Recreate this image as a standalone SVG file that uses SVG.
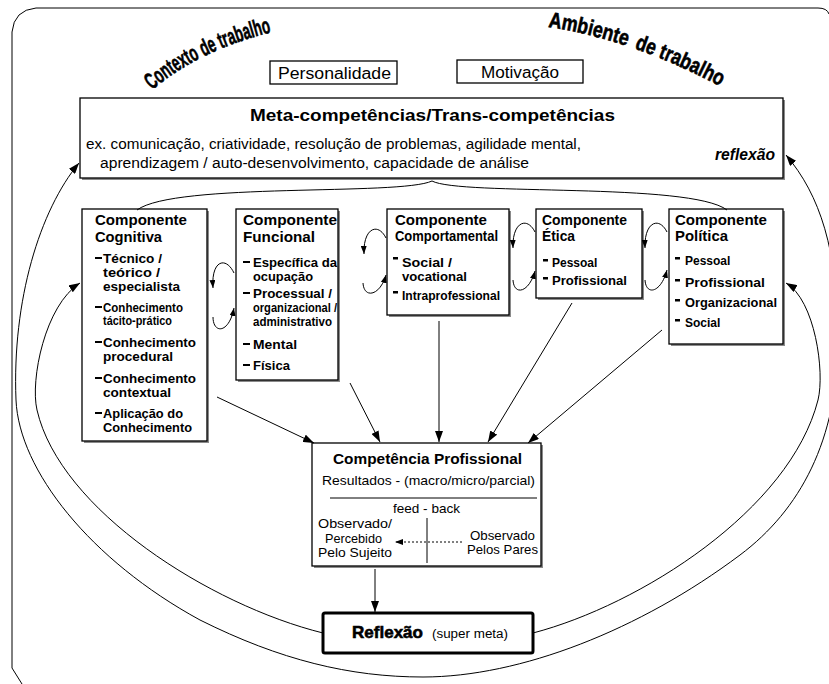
<svg xmlns="http://www.w3.org/2000/svg" width="829" height="684" viewBox="0 0 829 684">
<style>
.box{fill:#fff;stroke:#000;stroke-width:1.3}
.sh{fill:#8a8a8a}
.t{font-family:"Liberation Sans",Arial,sans-serif;fill:#000}
.n{font-family:"Liberation Sans Narrow","Liberation Sans",Arial,sans-serif;fill:#000}
.b{font-weight:bold}
.hv{font-weight:bold;stroke:#000;stroke-width:0.6}
.ttl{font-size:15px;font-weight:bold}
.it{font-size:12px;font-weight:bold}
.ln{fill:none;stroke:#000;stroke-width:1}
.bul{fill:#000}
</style>
<defs>
<marker id="ah" viewBox="0 0 11 8" refX="11" refY="4" markerWidth="11" markerHeight="8" markerUnits="userSpaceOnUse" orient="auto-start-reverse"><path d="M0,0 L11,4 L0,8 z"/></marker>
<marker id="as" viewBox="0 0 8 6" refX="8" refY="3" markerWidth="8" markerHeight="6" markerUnits="userSpaceOnUse" orient="auto-start-reverse"><path d="M0,0 L8,3 L0,6 z"/></marker>
<path id="p-ctx" d="M 152 90 Q 203 47 282 30"/>
<path id="p-amb" d="M 548 27 Q 635 40 727 90"/>
</defs>

<g id="frame">
<path class="ln" d="M 22 684 L 12 668 L 12 32 Q 14 10 36 8 L 818 8 Q 827 8 829 14"/>
</g>

<g id="labels-top">
<text class="t hv" font-size="23"><textPath href="#p-ctx" textLength="134" lengthAdjust="spacingAndGlyphs">Contexto de trabalho</textPath></text>
<text class="t hv" font-size="22"><textPath href="#p-amb" startOffset="0" textLength="81" lengthAdjust="spacingAndGlyphs">Ambiente</textPath></text>
<text class="t hv" font-size="22"><textPath href="#p-amb" startOffset="89" textLength="94" lengthAdjust="spacingAndGlyphs">de trabalho</textPath></text>
</g>

<g id="personalidade">
<rect class="box" x="270" y="61" width="127" height="23"/>
<text class="n" x="278" y="79" font-size="16" textLength="113" lengthAdjust="spacingAndGlyphs">Personalidade</text>
</g>
<g id="motivacao">
<rect class="box" x="457" y="60" width="126" height="23"/>
<text class="n" x="481" y="78" font-size="16" textLength="78" lengthAdjust="spacingAndGlyphs">Motivação</text>
</g>

<g id="meta">
<rect class="sh" x="82" y="100" width="703" height="80"/>
<rect class="box" x="80" y="98" width="703" height="80"/>
<text class="t b" x="250" y="121" font-size="17" textLength="365" lengthAdjust="spacingAndGlyphs">Meta-competências/Trans-competências</text>
<text class="n" x="86" y="149" font-size="14" textLength="495" lengthAdjust="spacingAndGlyphs">ex. comunicação, criatividade, resolução de problemas, agilidade mental,</text>
<text class="n" x="100" y="168" font-size="14" textLength="429" lengthAdjust="spacingAndGlyphs">aprendizagem / auto-desenvolvimento, capacidade de análise</text>
<text class="t b" x="715" y="160" font-size="16" font-style="italic" textLength="60" lengthAdjust="spacingAndGlyphs">reflexão</text>
</g>

<g id="cognitiva">
<rect class="sh" x="84" y="211" width="125" height="232"/>
<rect class="box" x="82" y="209" width="125" height="232"/>
<text class="t ttl" x="95" y="225" textLength="92" lengthAdjust="spacingAndGlyphs">Componente</text>
<text class="t ttl" x="95" y="242" textLength="67" lengthAdjust="spacingAndGlyphs">Cognitiva</text>
<rect class="bul" x="95" y="257" width="7" height="2"/>
<text class="t it" x="103" y="263" textLength="59" lengthAdjust="spacingAndGlyphs">Técnico /</text>
<text class="t it" x="103" y="277" textLength="57" lengthAdjust="spacingAndGlyphs">teórico /</text>
<text class="t it" x="103" y="291" textLength="77" lengthAdjust="spacingAndGlyphs">especialista</text>
<rect class="bul" x="95" y="306" width="7" height="2"/>
<text class="t it" x="103" y="312" textLength="80" lengthAdjust="spacingAndGlyphs">Conhecimento</text>
<text class="t it" x="103" y="325" textLength="69" lengthAdjust="spacingAndGlyphs">tácito-prático</text>
<rect class="bul" x="95" y="341" width="7" height="2"/>
<text class="t it" x="103" y="347" textLength="93" lengthAdjust="spacingAndGlyphs">Conhecimento</text>
<text class="t it" x="103" y="361" textLength="70" lengthAdjust="spacingAndGlyphs">procedural</text>
<rect class="bul" x="95" y="377" width="7" height="2"/>
<text class="t it" x="103" y="383" textLength="93" lengthAdjust="spacingAndGlyphs">Conhecimento</text>
<text class="t it" x="103" y="397" textLength="68" lengthAdjust="spacingAndGlyphs">contextual</text>
<rect class="bul" x="95" y="412" width="7" height="2"/>
<text class="t it" x="103" y="418" textLength="80" lengthAdjust="spacingAndGlyphs">Aplicação do</text>
<text class="t it" x="103" y="432" textLength="89" lengthAdjust="spacingAndGlyphs">Conhecimento</text>
</g>

<g id="funcional">
<rect class="sh" x="238" y="211" width="102" height="171"/>
<rect class="box" x="236" y="209" width="102" height="171"/>
<text class="t ttl" x="243" y="225" textLength="94" lengthAdjust="spacingAndGlyphs">Componente</text>
<text class="t ttl" x="243" y="242" textLength="72" lengthAdjust="spacingAndGlyphs">Funcional</text>
<rect class="bul" x="243" y="261" width="7" height="2"/>
<text class="t it" x="253" y="267" textLength="84" lengthAdjust="spacingAndGlyphs">Específica da</text>
<text class="t it" x="253" y="281" textLength="60" lengthAdjust="spacingAndGlyphs">ocupação</text>
<rect class="bul" x="243" y="292" width="7" height="2"/>
<text class="t it" x="253" y="298" textLength="79" lengthAdjust="spacingAndGlyphs">Processual /</text>
<text class="t it" x="253" y="312" textLength="84" lengthAdjust="spacingAndGlyphs">organizacional /</text>
<text class="t it" x="253" y="326" textLength="79" lengthAdjust="spacingAndGlyphs">administrativo</text>
<rect class="bul" x="243" y="343" width="7" height="2"/>
<text class="t it" x="253" y="349" textLength="44" lengthAdjust="spacingAndGlyphs">Mental</text>
<rect class="bul" x="243" y="364" width="7" height="2"/>
<text class="t it" x="253" y="370" textLength="37" lengthAdjust="spacingAndGlyphs">Física</text>
</g>

<g id="comportamental">
<rect class="sh" x="389" y="211" width="122" height="106"/>
<rect class="box" x="387" y="209" width="122" height="106"/>
<text class="t ttl" x="395" y="225" textLength="92" lengthAdjust="spacingAndGlyphs">Componente</text>
<text class="t ttl" x="395" y="241" font-size="14" textLength="103" lengthAdjust="spacingAndGlyphs">Comportamental</text>
<rect class="bul" x="393" y="257" width="5" height="2.5"/>
<text class="t it" x="402" y="267" textLength="50" lengthAdjust="spacingAndGlyphs">Social /</text>
<text class="t it" x="402" y="281" textLength="65" lengthAdjust="spacingAndGlyphs">vocational</text>
<rect class="bul" x="393" y="291" width="5" height="2.5"/>
<text class="t it" x="402" y="300" textLength="98" lengthAdjust="spacingAndGlyphs">Intraprofessional</text>
</g>

<g id="etica">
<rect class="sh" x="538" y="211" width="106" height="89"/>
<rect class="box" x="536" y="209" width="106" height="89"/>
<text class="t ttl" x="542" y="225" textLength="85" lengthAdjust="spacingAndGlyphs">Componente</text>
<text class="t ttl" x="542" y="241" textLength="33" lengthAdjust="spacingAndGlyphs">Ética</text>
<rect class="bul" x="543" y="259" width="5" height="2.5"/>
<text class="t it" x="552" y="267">Pessoal</text>
<rect class="bul" x="543" y="277" width="5" height="2.5"/>
<text class="t it" x="552" y="285" textLength="75" lengthAdjust="spacingAndGlyphs">Profissional</text>
</g>

<g id="politica">
<rect class="sh" x="671" y="211" width="114" height="135"/>
<rect class="box" x="669" y="209" width="114" height="135"/>
<text class="t ttl" x="675" y="225" textLength="92" lengthAdjust="spacingAndGlyphs">Componente</text>
<text class="t ttl" x="675" y="241" textLength="53" lengthAdjust="spacingAndGlyphs">Política</text>
<rect class="bul" x="675" y="257" width="5" height="2.5"/>
<text class="t it" x="685" y="265">Pessoal</text>
<rect class="bul" x="675" y="279" width="5" height="2.5"/>
<text class="t it" x="685" y="287" textLength="80" lengthAdjust="spacingAndGlyphs">Profissional</text>
<rect class="bul" x="675" y="299" width="5" height="2.5"/>
<text class="t it" x="685" y="307" textLength="92" lengthAdjust="spacingAndGlyphs">Organizacional</text>
<rect class="bul" x="675" y="319" width="5" height="2.5"/>
<text class="t it" x="685" y="327">Social</text>
</g>

<g id="competencia">
<rect class="sh" x="314" y="445" width="229" height="123"/>
<rect class="box" x="312" y="443" width="229" height="123"/>
<text class="t b" x="333" y="464" font-size="15" textLength="189" lengthAdjust="spacingAndGlyphs">Competência Profissional</text>
<text class="n" x="322" y="485" font-size="13.5" textLength="213" lengthAdjust="spacingAndGlyphs">Resultados - (macro/micro/parcial)</text>
<line class="ln" x1="330" y1="498" x2="537" y2="498" stroke-width="1.5"/>
<text class="n" x="393" y="513" font-size="13" textLength="67" lengthAdjust="spacingAndGlyphs">feed - back</text>
<line class="ln" x1="427" y1="518" x2="427" y2="563" stroke-width="1.5"/>
<text class="n" x="318" y="528" font-size="13" textLength="74" lengthAdjust="spacingAndGlyphs">Observado/</text>
<text class="n" x="325" y="543" font-size="13" textLength="57" lengthAdjust="spacingAndGlyphs">Percebido</text>
<text class="n" x="318" y="557" font-size="13" textLength="74" lengthAdjust="spacingAndGlyphs">Pelo Sujeito</text>
<text class="n" x="470" y="540" font-size="13" textLength="65" lengthAdjust="spacingAndGlyphs">Observado</text>
<text class="n" x="467" y="554" font-size="13" textLength="71" lengthAdjust="spacingAndGlyphs">Pelos Pares</text>
<path class="ln" d="M 462 542 L 395 542" stroke-dasharray="2 2" marker-end="url(#as)"/>
</g>

<g id="reflexao">
<rect x="323" y="613" width="210" height="40" rx="2" fill="#fff" stroke="#000" stroke-width="3"/>
<text class="t hv" x="352" y="638" font-size="17" stroke-width="0.3" textLength="71" lengthAdjust="spacingAndGlyphs">Reflexão</text>
<text class="n" x="432" y="638" font-size="12.5" textLength="76" lengthAdjust="spacingAndGlyphs">(super meta)</text>
</g>

<g id="connectors">
<path class="ln" d="M 137 210 C 175 182, 400 196, 432 181 C 460 196, 690 182, 727 210"/>
<path class="ln" d="M 234 273 C 226 256, 211 260, 213 288" marker-end="url(#as)"/>
<path class="ln" d="M 213 317 C 213 334, 229 334, 234 308" marker-end="url(#as)"/>
<path class="ln" d="M 386 238 C 378 222, 363 228, 364 254" marker-end="url(#as)"/>
<path class="ln" d="M 363 283 C 364 299, 380 296, 386 275" marker-end="url(#as)"/>
<path class="ln" d="M 535 232 C 527 216, 512 222, 513 248" marker-end="url(#as)"/>
<path class="ln" d="M 513 280 C 514 296, 529 293, 535 271" marker-end="url(#as)"/>
<path class="ln" d="M 667 232 C 659 216, 644 222, 645 248" marker-end="url(#as)"/>
<path class="ln" d="M 645 280 C 646 296, 661 293, 667 270" marker-end="url(#as)"/>
<path class="ln" d="M 217 397 L 314 443" marker-end="url(#ah)"/>
<path class="ln" d="M 350 383 L 380 442" marker-end="url(#ah)"/>
<path class="ln" d="M 439 321 L 439 442" marker-end="url(#ah)"/>
<path class="ln" d="M 572 303 L 488 442" marker-end="url(#ah)"/>
<path class="ln" d="M 662 330 L 528 443" marker-end="url(#ah)"/>
<path class="ln" d="M 375 569 L 375 612" marker-end="url(#ah)"/>
<path class="ln" d="M 79 163 C 40 210, 12 300, 16 400 C 19 470, 90 560, 200 620 C 280 660, 350 677, 423 677 C 520 677, 640 630, 740 555 C 800 510, 838 440, 838 340 C 838 250, 820 195, 786 155" marker-start="url(#ah)" marker-end="url(#ah)"/>
<path class="ln" d="M 323 633 C 210 605, 60 510, 37 410 C 30 380, 45 305, 80 283" marker-end="url(#ah)"/>
<path class="ln" d="M 533 633 C 640 605, 790 510, 818 400 C 825 372, 815 300, 786 283" marker-end="url(#ah)"/>
</g>
</svg>
